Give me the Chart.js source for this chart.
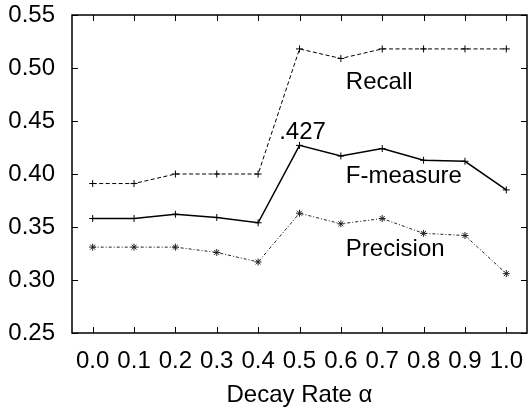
<!DOCTYPE html>
<html><head><meta charset="utf-8">
<script src="https://cdn.jsdelivr.net/npm/chart.js@4/dist/chart.umd.min.js"></script>
<style>html,body{margin:0;padding:0;background:#fff}#wrap{width:532px;height:410px}</style>
</head><body><div id="wrap"><canvas id="c" width="532" height="410"></canvas></div>
<script>
const categories = ["0.0","0.1","0.2","0.3","0.4","0.5","0.6","0.7","0.8","0.9","1.0"];
const recall =    [0.391,0.391,0.400,0.400,0.400,0.518,0.509,0.518,0.518,0.518,0.518];
const fmeasure =  [0.358,0.358,0.362,0.359,0.354,0.427,0.417,0.424,0.413,0.412,0.385];
const precision = [0.331,0.331,0.331,0.326,0.317,0.363,0.353,0.358,0.344,0.342,0.306];
const yTicks = [0.25,0.30,0.35,0.40,0.45,0.50,0.55];
const seriesLabels = ["Recall","F-measure","Precision"];
const peakLabel = ".427";

const FONT = "'Liberation Sans', Arial, sans-serif";
const FS = 24;

const frameTicks = {
  id: 'frameTicks',
  afterDatasetsDraw(chart) {
    const {ctx, chartArea: a, scales: {x, y}} = chart;
    ctx.save();
    ctx.strokeStyle = '#000';
    ctx.lineWidth = 1;
    const L = 6;
    x.ticks.forEach((t, i) => {
      const px = Math.round(x.getPixelForTick(i)) + 0.5;
      ctx.beginPath();
      ctx.moveTo(px, a.bottom); ctx.lineTo(px, a.bottom - L);
      ctx.moveTo(px, a.top); ctx.lineTo(px, a.top + L);
      ctx.stroke();
    });
    y.ticks.forEach((t, i) => {
      const py = Math.round(y.getPixelForTick(i)) + 0.5;
      ctx.beginPath();
      ctx.moveTo(a.left, py); ctx.lineTo(a.left + L, py);
      ctx.moveTo(a.right, py); ctx.lineTo(a.right - L, py);
      ctx.stroke();
    });
    ctx.lineWidth = 1.5;
    ctx.strokeRect(a.left, a.top, a.right - a.left, a.bottom - a.top);
    ctx.fillStyle = '#000';
    ctx.font = FS + 'px ' + FONT;
    ctx.textBaseline = 'middle';
    ctx.textAlign = 'left';
    const ox = x.getPixelForValue(6) + 5;
    ctx.fillText(seriesLabels[0], ox, y.getPixelForValue(0.4865));
    ctx.fillText(seriesLabels[1], ox, y.getPixelForValue(0.3975));
    ctx.fillText(seriesLabels[2], ox, y.getPixelForValue(0.3285));
    ctx.textAlign = 'center';
    ctx.fillText(peakLabel, x.getPixelForValue(5) + 3, y.getPixelForValue(0.4395));
    ctx.restore();
  }
};

new Chart(document.getElementById('c'), {
  type: 'line',
  data: {
    labels: categories,
    datasets: [
      {label: seriesLabels[0], data: recall, borderColor: '#000', backgroundColor: '#000', borderWidth: 1,
       borderDash: [4, 2.5], pointStyle: 'cross', pointRadius: 3.5, pointBorderWidth: 1, tension: 0},
      {label: seriesLabels[1], data: fmeasure, borderColor: '#000', backgroundColor: '#000', borderWidth: 1.5,
       pointStyle: 'cross', pointRadius: 3.5, pointBorderWidth: 1, tension: 0},
      {label: seriesLabels[2], data: precision, borderColor: '#222', backgroundColor: '#000', borderWidth: 1,
       borderDash: [3, 2, 1, 2], pointStyle: 'star', pointRadius: 3.5, pointBorderWidth: 1, tension: 0}
    ]
  },
  options: {
    responsive: false,
    animation: false,
    devicePixelRatio: 1,
    layout: {padding: {top: 15, right: 2, left: 0, bottom: 0}},
    plugins: {legend: {display: false}, tooltip: {enabled: false}},
    scales: {
      x: {
        type: 'category', offset: true,
        grid: {display: false, drawTicks: false},
        border: {display: false},
        ticks: {color: '#000', font: {size: FS, family: FONT}, padding: 14, maxRotation: 0, autoSkip: false},
        title: {display: true, text: 'Decay Rate α', color: '#000', font: {size: FS, family: FONT}, padding: {top: 8, bottom: 0}},
        afterFit(s) { s.height = 77; s.paddingLeft = 0; s.paddingRight = 0; }
      },
      y: {
        min: 0.25, max: 0.55,
        grid: {display: false, drawTicks: false},
        border: {display: false},
        afterBuildTicks(s) { s.ticks = yTicks.map(v => ({value: v})); },
        ticks: {color: '#000', font: {size: FS, family: FONT}, padding: 17, callback: v => Number(v).toFixed(2)},
        afterFit(s) { s.width = 72; s.paddingTop = 0; s.paddingBottom = 0; }
      }
    }
  },
  plugins: [frameTicks]
});
</script></body></html>
